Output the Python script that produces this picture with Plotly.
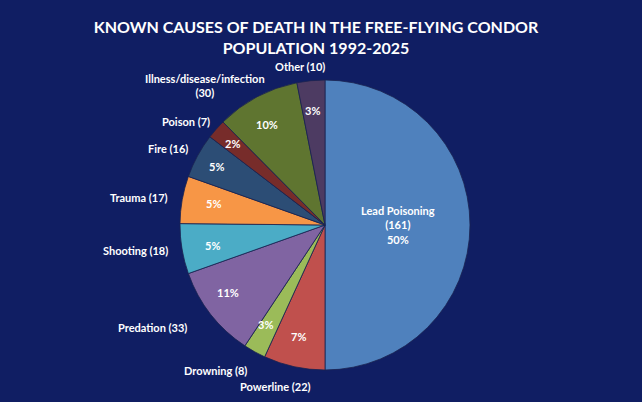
import math
import plotly.graph_objects as go

# ---- data ----
causes = ["Lead Poisoning", "Powerline", "Drowning", "Predation", "Shooting",
          "Trauma", "Fire", "Poison", "Illness/disease/infection", "Other"]
counts = [161, 22, 8, 33, 18, 17, 16, 7, 30, 10]
pct_labels = ["50%", "7%", "3%", "11%", "5%", "5%", "5%", "2%", "10%", "3%"]
colors = ["#4F81BD", "#C0504D", "#9BBB59", "#8064A2", "#4BACC6",
          "#F79646", "#2C4D75", "#772C2A", "#5F7530", "#4D3B62"]

# ---- layout constants (pixels) ----
W, H = 642, 402
CX, CY, R = 325, 225, 145
BG = "#101E63"
FONT = "Lato"
# small pixel nudges for outside labels (x right, y down), mimicking Excel's placement
label_nudge = {"Illness/disease/infection": (16, 15), "Other": (-10, 6),
               "Predation": (-12, 6), "Powerline": (-16, 0), "Poison": (5, 0),
               "Fire": (3, -2)}

def px(x):
    return x / W

def py(y):
    return 1 - y / H

fig = go.Figure()
fig.add_trace(go.Pie(
    labels=causes, values=counts, sort=False, direction="clockwise", rotation=0,
    marker=dict(colors=colors, line=dict(color="#1a2350", width=0.8)),
    textinfo="none", hoverinfo="label+value+percent", showlegend=False,
    domain=dict(x=[px(CX - R), px(CX + R)], y=[py(CY + R), py(CY - R)]),
))

annotations = []
total = sum(counts)
cum = 0
for name, n, pct in zip(causes, counts, pct_labels):
    mid = (cum + n / 2) / total * 2 * math.pi
    cum += n
    dx, dy = math.sin(mid), math.cos(mid)  # dy is "up"
    if name == "Lead Poisoning":
        r_in = 0.5 * R
        annotations.append(dict(
            x=px(CX + r_in * dx), y=py(CY - r_in * dy), xref="paper", yref="paper",
            text=f"{name}<br>({n})<br>{pct}", showarrow=False, align="center",
            font=dict(family=FONT, size=11, color="white", weight="bold")))
        continue
    # percentage inside near the outer edge
    r_in = 0.85 * R
    annotations.append(dict(
        x=px(CX + r_in * dx), y=py(CY - r_in * dy), xref="paper", yref="paper",
        text=pct, showarrow=False,
        font=dict(family=FONT, size=11, color="white", weight="bold")))
    # category label outside
    r_out = R + 12
    xa = "right" if dx < -0.3 else ("left" if dx > 0.3 else "center")
    if dy > 0.85:
        ya = "bottom"
    elif dy < -0.85:
        ya = "top"
    else:
        ya = "middle"
    if name.startswith("Illness"):
        label = f"{name}<br>({n})"
    else:
        label = f"{name} ({n})"
    nx, ny = label_nudge.get(name, (0, 0))
    annotations.append(dict(
        x=px(CX + r_out * dx + nx), y=py(CY - r_out * dy + ny), xref="paper", yref="paper",
        xanchor=xa, yanchor=ya, text=label, showarrow=False, align="center",
        font=dict(family=FONT, size=11, color="white", weight="bold")))

fig.update_layout(
    width=W, height=H, margin=dict(l=0, r=0, t=0, b=0),
    paper_bgcolor=BG, plot_bgcolor=BG,
    title=dict(text="KNOWN CAUSES OF DEATH IN THE FREE-FLYING CONDOR<br>POPULATION 1992-2025",
               x=px(316), xanchor="center", y=py(33), yanchor="top", yref="paper",
               font=dict(family=FONT, size=16, color="white", weight="bold")),
    annotations=annotations,
)

fig.write_html("out.html", config={"displayModeBar": False},
               post_script="document.body.style.margin='0';")
